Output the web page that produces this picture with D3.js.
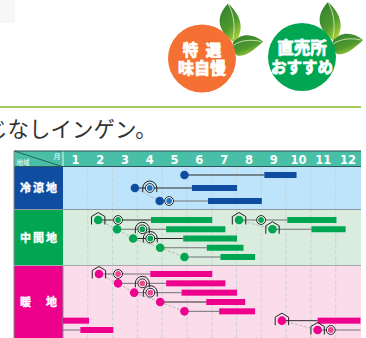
<!DOCTYPE html>
<html>
<head>
<meta charset="utf-8">
<script src="https://cdn.jsdelivr.net/npm/d3@7"></script>
<style>
html, body { margin: 0; padding: 0; background: #fff; overflow: hidden; }
text { font-family: "Noto Sans CJK JP", sans-serif; }
</style>
</head>
<body>
<div id="chart"></div>
<script>
// month labels along the top of the calendar
const months = [1, 2, 3, 4, 5, 6, 7, 8, 9, 10, 11, 12];
const regionNames = ["冷涼地", "中間地", "暖　地"];
const regionColors = ["#0f4da0", "#00a651", "#ec008c"];
const regionInner = ["#1b78c8", "#00a651", "#f0468f"];
const regionBacks = ["#bde4fa", "#d9ecde", "#fbdceb"];
const badgeNames = [["特 選", "味自慢"], ["直売所", "おすすめ"]];

// one row per sowing: [line, sow, ring, cover, harvest start, harvest end, tone]
// months as decimals, 0 = start of January. cover: "house", "tunnel", "" 
const coldRows = [
    [0, 4.9, null, "", 8.12, 9.42, 1],
    [1, 2.9, 3.5, "tunnel", 5.2, 7.02, 1],
    [2, 3.9, 4.28, "", 5.85, 8.02, 0]
];
const middleRows = [
    [0, 1.42, 2.22, "house", 3.55, 6.02, 1],
    [1, 2.18, 3.2, "tunnel", 4.16, 6.55, 0],
    [2, 2.83, 3.52, "tunnel", 4.85, 7.02, 1],
    [3, 3.92, null, "", 5.8, 7.28, 0],
    [4, 4.9, null, "", 6.35, 7.75, 0],
    [0, 7.1, 7.99, "house", 9.05, 11.03, 0],
    [1, 8.45, null, "house", 10.02, 11.4, 0]
];
const warmRows = [
    [0, 1.45, 2.22, "house", 3.52, 6.02, 0],
    [1, 2.22, 3.2, "tunnel", 4.16, 6.55, 0],
    [2, 2.87, 3.52, "tunnel", 4.78, 7.02, 0],
    [3, 3.92, null, "", 5.78, 7.35, 1],
    [4, 4.9, null, "", 6.3, 7.75, 0],
    [5, 8.83, null, "house", 10.27, 12, 1],
    [6, 10.27, 10.8, "house", 12, 12, 0],
    [5, 0, null, "", 0, 1.05, 1],
    [6, 0, null, "", 0.7, 2.03, 0]
];
// staircases of sowing dots joined by a faint dashed line, as indexes into the rows above
const coldStairs = [[1, 2]];
const middleStairs = [[0, 1, 2, 3, 4], [5, 6]];
const warmStairs = [[0, 1, 2, 3, 4], [5, 6]];

const width = 366;
const height = 338;

const svg = d3.select("#chart")
    .append("svg")
    .attr("width", width)
    .attr("height", height)
    .style("display", "block");

const defs = svg.append("defs");
const leafGradient = defs.append("linearGradient")
    .attr("id", "leaf-gradient")
    .attr("x1", "0%").attr("y1", "0%")
    .attr("x2", "60%").attr("y2", "100%");
leafGradient.append("stop").attr("offset", "0%").attr("stop-color", "#2f7d32");
leafGradient.append("stop").attr("offset", "65%").attr("stop-color", "#4f9a2e");
leafGradient.append("stop").attr("offset", "100%").attr("stop-color", "#a6cf3a");

// faint smudge in the top left corner of the scan
svg.append("rect")
    .attr("x", 0).attr("y", 0)
    .attr("width", 15).attr("height", 23)
    .attr("fill", "#f7f7f7");

// badges with their leaves
const badges = svg.selectAll("g.badge")
    .data(badgeNames)
    .join("g")
    .attr("class", "badge")
    .attr("transform", (d, i) => i === 0 ? "translate(202,58.5)" : "translate(302,57)");

badges.append("path")
    .attr("d", "M31,-17 C17,-27 12,-40 26,-55 C36,-46 45,-32 33,-15 Z")
    .attr("fill", "url(#leaf-gradient)");
badges.append("path")
    .attr("d", "M26,-55 C33,-42 33,-30 31,-19")
    .attr("fill", "none")
    .attr("stroke", "#e2f0c0")
    .attr("stroke-width", 0.8);
badges.append("path")
    .attr("d", "M31,-16 C38,-25 50,-26 61,-17 C52,-8 42,-1 35,-3 C31,-7 30,-12 31,-16 Z")
    .attr("fill", "url(#leaf-gradient)");
badges.append("path")
    .attr("d", "M31,-13 C40,-19 50,-19 59,-17")
    .attr("fill", "none")
    .attr("stroke", "#e4f2c4")
    .attr("stroke-width", 0.8);

badges.append("circle")
    .attr("r", 34)
    .attr("fill", (d, i) => i === 0 ? "#f47133" : "#00a651");

badges.each(function(lines, i) {
    const sizes = i === 0 ? [15.5, 16] : [16.5, 15.5];
    lines.forEach((line, k) => {
        d3.select(this).append("text")
            .attr("x", 0)
            .attr("y", k === 0 ? -3 : 15.5)
            .attr("text-anchor", "middle")
            .attr("fill", "#fff")
            .attr("stroke", "#fff")
            .attr("stroke-width", 0.8)
            .style("font-size", sizes[k] + "px")
            .style("font-weight", 700)
            .style("word-spacing", "4px")
            .text(line);
    });
});

svg.append("line")
    .attr("x1", 0).attr("x2", 361)
    .attr("y1", 107).attr("y2", 107)
    .attr("stroke", "#a5c95c")
    .attr("stroke-width", 2);

svg.append("text")
    .attr("x", -14)
    .attr("y", 137)
    .attr("fill", "#333")
    .style("font-size", "21.5px")
    .text("じなしインゲン。");

// calendar
const x = d3.scaleLinear().domain([0, 12]).range([63, 360.5]);
const left = 14;
const headerTop = 151;
const headerBottom = 166.5;

const regionTops = [167, 209.5, 265.5];
const regionBottoms = [209.5, 265.5, 338];
// row scales, one for each region
const yScales = [
    d3.scaleLinear().domain([0, 2]).range([175, 201]),
    d3.scaleLinear().domain([0, 4]).range([220, 257]),
    d3.scaleLinear().domain([0, 6]).range([274, 330])
];
const regionRows = [coldRows, middleRows, warmRows];
const regionStairs = [coldStairs, middleStairs, warmStairs];

const header = svg.append("g");
header.append("rect")
    .attr("x", left).attr("y", headerTop)
    .attr("width", 361 - left).attr("height", headerBottom - headerTop)
    .attr("fill", "#48bfa6");
header.append("line")
    .attr("x1", left).attr("y1", headerTop)
    .attr("x2", 62).attr("y2", headerBottom)
    .attr("stroke", "#1e4a48")
    .attr("stroke-width", 0.8);
header.append("text")
    .attr("x", 57).attr("y", 159)
    .attr("text-anchor", "middle")
    .attr("fill", "#fff")
    .style("font-size", "7px")
    .text("月");
header.append("text")
    .attr("x", 23).attr("y", 165)
    .attr("text-anchor", "middle")
    .attr("fill", "#fff")
    .style("font-size", "6.5px")
    .text("地域");
header.append("line")
    .attr("x1", x(0)).attr("x2", x(0))
    .attr("y1", headerTop).attr("y2", headerBottom)
    .attr("stroke", "#e6f6f2").attr("stroke-width", 1);

header.selectAll("text.month")
    .data(months)
    .join("text")
    .attr("class", "month")
    .attr("x", d => x(d - 0.5))
    .attr("y", 164)
    .attr("text-anchor", "middle")
    .attr("fill", "#fff")
    .style("font-family", "'DejaVu Sans', sans-serif")
    .style("font-size", "11.5px")
    .style("font-weight", 700)
    .text(d => d);

regionNames.forEach((name, i) => {
    const top = regionTops[i];
    const bottom = regionBottoms[i];
    svg.append("rect")
        .attr("x", x(0)).attr("y", top)
        .attr("width", 361 - x(0)).attr("height", bottom - top)
        .attr("fill", regionBacks[i]);
    svg.append("rect")
        .attr("x", left).attr("y", top)
        .attr("width", x(0) - left).attr("height", bottom - top)
        .attr("fill", regionColors[i]);
    svg.append("text")
        .attr("x", (left + x(0)) / 2 + 1)
        .attr("y", i === 2 ? 306 : (top + bottom) / 2 + 4)
        .attr("text-anchor", "middle")
        .attr("fill", "#fff")
        .attr("stroke", "#fff")
        .attr("stroke-width", 0.4)
        .style("font-size", "11px")
        .style("font-weight", 700)
        .style("letter-spacing", "2px")
        .text(name);
});

// dashed month gridlines
svg.append("g")
    .selectAll("line")
    .data(months.slice(0, 11))
    .join("line")
    .attr("x1", d => x(d)).attr("x2", d => x(d))
    .attr("y1", headerBottom).attr("y2", height)
    .attr("stroke", "#c4cfd2")
    .attr("stroke-width", 0.8)
    .attr("stroke-dasharray", "4,2");

// frame lines
const frame = svg.append("g");
frame.append("line")
    .attr("x1", left).attr("x2", 361)
    .attr("y1", headerTop).attr("y2", headerTop)
    .attr("stroke", "#2a4d4c").attr("stroke-width", 1);
frame.append("line")
    .attr("x1", left).attr("x2", 361)
    .attr("y1", headerBottom).attr("y2", headerBottom)
    .attr("stroke", "#2a5a58").attr("stroke-width", 1);
frame.append("line")
    .attr("x1", left).attr("x2", left)
    .attr("y1", headerTop).attr("y2", height)
    .attr("stroke", "#888").attr("stroke-width", 1);
frame.append("line")
    .attr("x1", x(0)).attr("x2", x(0))
    .attr("y1", 265.5).attr("y2", height)
    .attr("stroke", "#8a8a90").attr("stroke-width", 1);
frame.append("line")
    .attr("x1", left).attr("x2", 361)
    .attr("y1", 209.5).attr("y2", 209.5)
    .attr("stroke", "#8a9aa0").attr("stroke-width", 1);
frame.append("line")
    .attr("x1", left).attr("x2", 361)
    .attr("y1", 265.5).attr("y2", 265.5)
    .attr("stroke", "#a0aaa8").attr("stroke-width", 1);

const stairLine = d3.line().x(d => d[0]).y(d => d[1]);
const toneColor = d3.scaleOrdinal().domain([0, 1]).range(["#6f7475", "#2b2b2b"]);

regionRows.forEach((rows, i) => {
    const y = yScales[i];
    const color = regionColors[i];
    const g = svg.append("g");

    // faint diagonal between sowing dots
    regionStairs[i].forEach(stair => {
        g.append("path")
            .attr("d", stairLine(stair.map(k => [x(rows[k][1]), y(rows[k][0])])))
            .attr("fill", "none")
            .attr("stroke", "#b0b4b8")
            .attr("stroke-width", 0.9)
            .attr("stroke-dasharray", "3,1.5");
    });

    g.selectAll("line.grow")
        .data(rows)
        .join("line")
        .attr("class", "grow")
        .attr("x1", d => x(d[1])).attr("x2", d => x(d[4]))
        .attr("y1", d => y(d[0])).attr("y2", d => y(d[0]))
        .attr("stroke", d => toneColor(d[6]))
        .attr("stroke-width", 1);

    g.selectAll("rect.harvest")
        .data(rows.filter(d => d[5] > d[4]))
        .join("rect")
        .attr("class", "harvest")
        .attr("x", d => x(d[4]))
        .attr("y", d => y(d[0]) - 3)
        .attr("width", d => x(d[5]) - x(d[4]))
        .attr("height", 6)
        .attr("fill", color);

    // wrapped lines that start at the january edge have no dot
    const sown = rows.filter(d => d[1] > 0);

    // house and tunnel outlines
    sown.forEach(d => {
        const hasRing = d[2] !== null && d[3] === "tunnel";
        const cx = hasRing ? x(d[2]) : x(d[1]);
        const cy = y(d[0]);
        if (d[3] === "house") {
            g.append("path")
                .attr("d", `M${cx - 6.7},${cy + 4.5} V${cy - 3.5} L${cx},${cy - 7.5} L${cx + 6.7},${cy - 3.5} V${cy + 4.5}`)
                .attr("fill", "none")
                .attr("stroke", "#222")
                .attr("stroke-width", 1);
        } else if (d[3] === "tunnel") {
            g.append("path")
                .attr("d", `M${cx - 7},${cy + 4} V${cy} A7,7 0 0 1 ${cx + 7},${cy} V${cy + 4}`)
                .attr("fill", "none")
                .attr("stroke", "#222")
                .attr("stroke-width", 1);
        }
    });

    g.selectAll("circle.sow")
        .data(sown)
        .join("circle")
        .attr("class", "sow")
        .attr("cx", d => x(d[1]))
        .attr("cy", d => y(d[0]))
        .attr("r", 4.3)
        .attr("fill", color);

    const ringed = rows.filter(d => d[2] !== null);
    g.selectAll("circle.ring")
        .data(ringed)
        .join("circle")
        .attr("class", "ring")
        .attr("cx", d => x(d[2]))
        .attr("cy", d => y(d[0]))
        .attr("r", 4.4)
        .attr("fill", "#fff")
        .attr("stroke", "#222")
        .attr("stroke-width", 1);
    g.selectAll("circle.inner")
        .data(ringed)
        .join("circle")
        .attr("class", "inner")
        .attr("cx", d => x(d[2]))
        .attr("cy", d => y(d[0]))
        .attr("r", 2.9)
        .attr("fill", regionInner[i]);
});
</script>
</body>
</html>
